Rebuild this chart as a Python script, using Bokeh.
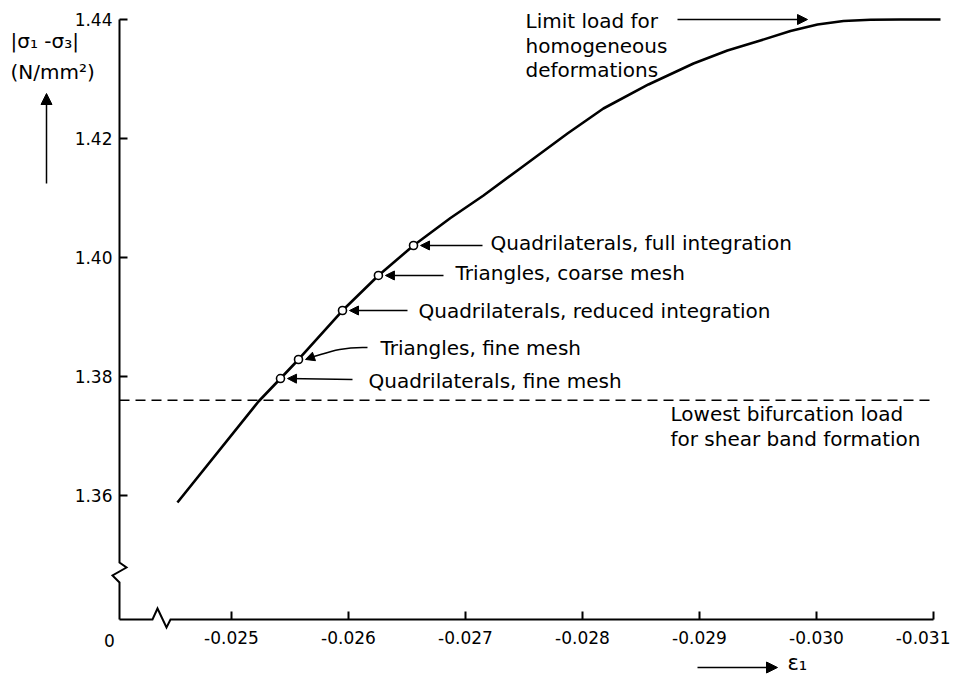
from bokeh.plotting import figure
from bokeh.models import Range1d, FixedTicker, Label, Arrow, NormalHead
from bokeh.embed import file_html
from bokeh.resources import INLINE

# ---------------- data ----------------
strain = [-0.024538, -0.025231, -0.025419, -0.025573, -0.025949, -0.026256,
          -0.026556, -0.026872, -0.027154, -0.027444, -0.027872, -0.028179,
          -0.028564, -0.028949, -0.029239, -0.029521, -0.029778, -0.030009,
          -0.030231, -0.030462, -0.030718, -0.031060]
stress = [1.35882, 1.37580, 1.37966, 1.38286, 1.39109, 1.39698,
          1.40202, 1.40664, 1.41042, 1.41462, 1.42084, 1.42504,
          1.42908, 1.43261, 1.43479, 1.43647, 1.43807, 1.43916,
          1.43975, 1.43995, 1.44000, 1.44000]

marker_strain = [-0.025419, -0.025573, -0.025949, -0.026256, -0.026556]
marker_stress = [1.37966, 1.38286, 1.39109, 1.39698, 1.40202]
marker_labels = ["Quadrilaterals, fine mesh", "Triangles, fine mesh",
                 "Quadrilaterals, reduced integration", "Triangles, coarse mesh",
                 "Quadrilaterals, full integration"]

bifurcation_load = 1.376
bifurcation_end = -0.031

x_ticks = [-0.025, -0.026, -0.027, -0.028, -0.029, -0.030, -0.031]
x_tick_labels = ["-0.025", "-0.026", "-0.027", "-0.028", "-0.029", "-0.030", "-0.031"]
y_ticks = [1.36, 1.38, 1.40, 1.42, 1.44]
y_tick_labels = ["1.36", "1.38", "1.40", "1.42", "1.44"]

# ---------------- layout ----------------
FONT = "DejaVu Sans"
W, H = 950, 675
XS = 0.001 / 117          # strain per pixel
YS = 0.02 / 119           # stress per pixel
XR0 = -0.024043 + 119 * XS  # strain at the left canvas edge
YR1 = 1.44 + 19 * YS        # stress at the top canvas edge


def px(x):  # canvas pixel -> data x
    return XR0 - x * XS


def py(y):  # canvas pixel -> data y
    return YR1 - y * YS


X_ORIGIN = px(119)
Y_ORIGIN = py(619)

p = figure(width=W, height=H, output_backend="svg", toolbar_location=None,
           x_range=Range1d(px(0), px(W)), y_range=Range1d(py(H), py(0)),
           min_border=0)
p.outline_line_color = None
p.grid.visible = False
p.background_fill_color = "white"
p.border_fill_color = "white"

for ax in (p.xaxis, p.yaxis):
    ax.axis_line_color = None
    ax.minor_tick_line_color = None
    ax.major_tick_in = 8
    ax.major_tick_out = 0
    ax.major_tick_line_width = 2
    ax.major_tick_line_color = "black"
    ax.major_label_text_font = FONT
    ax.major_label_text_font_size = "17px"
    ax.major_label_text_color = "black"

p.xaxis.fixed_location = Y_ORIGIN
p.xaxis.ticker = FixedTicker(ticks=x_ticks)
p.xaxis.major_label_overrides = dict(zip(x_ticks, x_tick_labels))
p.xaxis.major_label_standoff = 11
p.yaxis.fixed_location = X_ORIGIN
p.yaxis.ticker = FixedTicker(ticks=y_ticks)
p.yaxis.major_label_overrides = dict(zip(y_ticks, y_tick_labels))
p.yaxis.major_label_standoff = 7

# axis lines with break symbols
y_axis_pts = [(119, 19), (119, 562), (126, 567), (112, 575), (119, 582), (119, 619)]
x_axis_pts = [(119, 619), (152, 619), (157, 608), (166, 627), (170, 619), (933, 619)]
p.multi_line([[px(a) for a, b in y_axis_pts], [px(a) for a, b in x_axis_pts]],
             [[py(b) for a, b in y_axis_pts], [py(b) for a, b in x_axis_pts]],
             line_width=2, line_color="black", line_join="miter")

# dashed bifurcation line
p.line([X_ORIGIN, bifurcation_end], [bifurcation_load, bifurcation_load],
       line_dash="10 6", line_width=1.6, line_color="black")

# main curve
p.line(strain, stress, line_width=2.6, line_color="black", line_join="round")
p.scatter(marker_strain, marker_stress, size=8, fill_color="white",
          line_color="black", line_width=1.6)


def label(x, y, text, size="20px", align="left"):
    p.add_layout(Label(x=px(x), y=py(y), text=text, text_font=FONT,
                       text_font_size=size, text_baseline="middle",
                       text_align=align, text_color="black"))


def head(size=9):
    return NormalHead(size=size, fill_color="black", line_color="black", line_width=1)


# marker annotations: (text_left, text_y, arrow_start_x, arrow_start_y)
annot = [(368, 380, 352, 379), (380, 347, 367, 347),
         (418, 310, 407, 310), (455, 272, 443, 275),
         (490, 242, 482, 245)]
for i, ((tx, ty, ax0, ay0), mx, my, txt) in enumerate(
        zip(annot, marker_strain, marker_stress, marker_labels)):
    label(tx, ty, txt)
    if txt == "Triangles, fine mesh":
        # slightly curved leader
        p.bezier(x0=[px(ax0)], y0=[py(ay0)], x1=[mx + 12 * XS * -1], y1=[my + 2 * YS],
                 cx0=[px(ax0 - 30)], cy0=[py(ay0 - 1)], cx1=[mx + 25 * XS * -1], cy1=[my + 5 * YS],
                 line_width=1.5, line_color="black")
        p.add_layout(Arrow(x_start=mx - 14 * XS, y_start=my + 2.5 * YS,
                           x_end=mx - 7 * XS, y_end=my, line_width=1.5,
                           line_color="black", end=head()))
    else:
        p.add_layout(Arrow(x_start=px(ax0), y_start=py(ay0), x_end=mx - 7 * XS, y_end=my,
                           line_width=1.5, line_color="black", end=head()))

# limit load annotation
label(525, 20, "Limit load for")
label(525, 45, "homogeneous")
label(525, 69, "deformations")
p.add_layout(Arrow(x_start=px(677), y_start=py(19), x_end=px(807), y_end=py(19),
                   line_width=1.5, line_color="black", end=head(10)))

# bifurcation annotation
label(670, 413, "Lowest bifurcation load")
label(670, 438, "for shear band formation")

# y-axis title
label(10, 40, "|σ₁ -σ₃|")
label(10, 71, "(N/mm²)")
p.add_layout(Arrow(x_start=px(46), y_start=py(183), x_end=px(46), y_end=py(93),
                   line_width=1.5, line_color="black", end=head(11)))

# x-axis title
label(787, 662, "ε₁", size="21px")
p.add_layout(Arrow(x_start=px(697), y_start=py(667), x_end=px(777), y_end=py(667),
                   line_width=1.5, line_color="black", end=head(11)))

# origin label of broken axis
label(109, 640, "0", size="17px", align="center")

open("out.html", "w").write(file_html(p, INLINE))
